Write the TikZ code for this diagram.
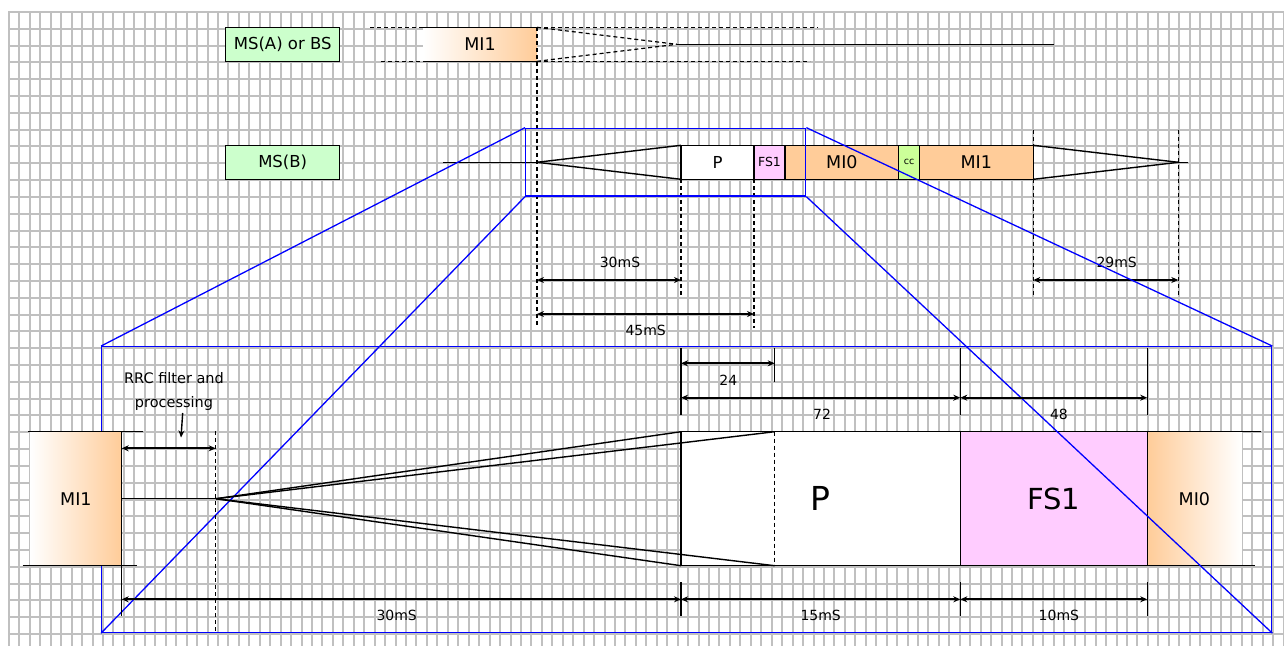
\documentclass[tikz,border=0pt]{standalone}
\usepackage{fontspec}
\setmainfont{DejaVu Sans}
\usepackage{tikz}
\usetikzlibrary{arrows, arrows.meta, positioning}
\definecolor{gridgray}{RGB}{192,192,192}
\definecolor{msgreen}{RGB}{204,255,204}
\definecolor{miorange}{RGB}{255,204,153}
\definecolor{fspink}{RGB}{255,204,255}
\definecolor{ccgreen}{RGB}{204,255,153}
\tikzstyle{slot} = [rectangle, draw=black, line width=1.3pt, inner sep=0pt, outer sep=0pt, minimum height=34pt, font=\fontsize{16.5}{19}\selectfont]
\tikzstyle{msnode} = [slot, fill=msgreen, minimum width=114pt]
\tikzstyle{bigslot} = [rectangle, inner sep=0pt, outer sep=0pt, minimum height=134pt]
\tikzstyle{guide} = [line width=1.2pt, dash pattern=on 4pt off 3pt]
\tikzstyle{edge} = [line width=1.4pt]
\tikzstyle{dimarrow} = [line width=1.8pt, {Stealth[length=7pt,width=6pt]}-{Stealth[length=7pt,width=6pt]}]
\tikzstyle{zoomline} = [blue, line width=1.3pt]
\tikzstyle{dimtext} = [inner sep=0pt, font=\fontsize{14}{16}\selectfont]

\begin{document}
\begin{tikzpicture}[x=1pt, y=-1pt]
    \useasboundingbox (0,0) rectangle (1284,646);
    \foreach \i in {0,...,122}
        \draw [gridgray, line width=2pt] (9+10.448*\i,11) -- (9+10.448*\i,646);
    \foreach \j in {0,...,37}
        \draw [gridgray, line width=2pt] (8,12+16.81*\j) -- (1284,12+16.81*\j);

    \node (msa) [msnode] at (282.7,44.3) {MS(A) or BS};
    \node (msb) [msnode] at (282.7,162.3) {MS(B)};

    \coordinate (atl) at (370,27.3);
    \coordinate (abl) at (381,61.3);
    \coordinate (aconv) at (676.7,44.3);
    \coordinate (atr) at (818,27.3);
    \coordinate (abr) at (810,61.3);
    \coordinate (aend) at (1054,44.3);
    \node (mia) [slot, draw=none, minimum width=114pt, left color=white, right color=miorange, font=\fontsize{17.5}{20}\selectfont] at (480,44.3) {MI1};
    \draw [edge] (mia.north west) -- (mia.north east);
    \draw [edge] (mia.south west) -- (mia.south east);
    \draw [guide] (atl) -- (mia.north west);
    \draw [guide] (abl) -- (mia.south west);
    \draw [guide] (mia.north east) -- (aconv);
    \draw [guide] (mia.south east) -- (aconv);
    \draw [guide] (mia.north east) -- (atr);
    \draw [guide] (mia.south east) -- (abr);
    \draw [edge] (aconv) -- (aend);

    \node (pa) [slot, fill=white, minimum width=73pt] at (717.5,162.3) {P};
    \node (fsa) [slot, fill=fspink, minimum width=31pt, right=0pt of pa, font=\fontsize{12.5}{14}\selectfont] {FS1};
    \node (mioa) [slot, fill=miorange, minimum width=113.7pt, right=0pt of fsa, font=\fontsize{17.5}{20}\selectfont] {MI0};
    \node (cca) [slot, fill=ccgreen, minimum width=20.6pt, right=0pt of mioa, font=\fontsize{9.5}{11}\selectfont] {cc};
    \node (mi1a) [slot, fill=miorange, minimum width=114pt, right=0pt of cca, font=\fontsize{17.5}{20}\selectfont] {MI1};
    \coordinate (bstart) at (443,162.3);
    \coordinate (bconv) at (537,162.3);
    \coordinate (cconv) at (1178.3,162.3);
    \coordinate (bend) at (1188.3,162.3);
    \draw [edge] (bstart) -- (bconv);
    \draw [edge] (bconv) -- (pa.north west);
    \draw [edge] (bconv) -- (pa.south west);
    \draw [edge] (mi1a.north east) -- (cconv);
    \draw [edge] (mi1a.south east) -- (cconv);
    \draw [edge] (cconv) -- (bend);

    \coordinate (g1b) at (537,328);
    \coordinate (g2b) at (681,297);
    \coordinate (g3b) at (754,328);
    \coordinate (g4t) at (1033.3,130);
    \coordinate (g4b) at (1033.3,297);
    \coordinate (g5t) at (1178.3,130);
    \coordinate (g5b) at (1178.3,297);
    \draw [guide] (mia.north east) -- (g1b);
    \draw [guide] (pa.south west) -- (g2b);
    \draw [guide] (fsa.south west) -- (g3b);
    \draw [guide] (g4t) -- (g4b);
    \draw [guide] (g5t) -- (g5b);

    \coordinate (d30l) at (537,280);
    \coordinate (d30r) at (681,280);
    \coordinate (d45l) at (537,314);
    \coordinate (d45r) at (754,314);
    \coordinate (d29l) at (1033.3,280);
    \coordinate (d29r) at (1178.3,280);
    \draw [dimarrow] (d30l) -- (d30r);
    \draw [dimarrow] (d45l) -- (d45r);
    \draw [dimarrow] (d29l) -- (d29r);
    \node (t30) [dimtext] at (620,262.7) {30mS};
    \node (t45) [dimtext] at (645.7,330) {45mS};
    \node (t29) [dimtext] at (1116.7,262.3) {29mS};

    \node (pb) [bigslot, draw=black, line width=1.3pt, fill=white, minimum width=279.3pt, font=\fontsize{33}{36}\selectfont] at (820.65,498.7) {P};
    \node (fsb) [bigslot, draw=black, line width=1.3pt, fill=fspink, minimum width=186.9pt, right=0pt of pb, font=\fontsize{29}{32}\selectfont] {FS1};
    \node (miob) [bigslot, minimum width=94.4pt, left color=miorange, right color=white, right=0pt of fsb, font=\fontsize{17.5}{20}\selectfont] {MI0};
    \draw [edge] (fsb.north east) -- (fsb.south east);
    \coordinate (btr) at (1261,431.7);
    \coordinate (bbr) at (1255,565.7);
    \draw [edge] (pb.north west) -- (btr);
    \draw [edge] (pb.south west) -- (bbr);

    \node (zsmall) [draw=blue, line width=1.3pt, minimum width=280pt, minimum height=67.7pt, inner sep=0pt] at (665.7,162.15) {};
    \node (zbig) [draw=blue, line width=1.3pt, minimum width=1170pt, minimum height=285.8pt, inner sep=0pt] at (686.7,489.6) {};
    \draw [zoomline] (zsmall.north west) -- (zbig.north west);
    \draw [zoomline] (zsmall.north east) -- (zbig.north east);
    \draw [zoomline] (zsmall.south west) -- (zbig.south west);
    \draw [zoomline] (zsmall.south east) -- (zbig.south east);

    \node (mi1b) [bigslot, minimum width=91.7pt, left color=white, right color=miorange, font=\fontsize{17.5}{20}\selectfont] at (75.85,498.7) {MI1};
    \coordinate (mtl) at (28.3,431.7);
    \coordinate (mtr) at (143.3,431.7);
    \coordinate (mbl) at (22.7,565.7);
    \coordinate (mbr) at (136.7,565.7);
    \coordinate (mext) at (121.7,616);
    \draw [edge] (mtl) -- (mtr);
    \draw [edge] (mbl) -- (mbr);
    \draw [edge] (mi1b.north east) -- (mext);

    \coordinate (rconv) at (216,498.7);
    \coordinate (pdt) at (774.7,431.7);
    \coordinate (pdb) at (774.7,565.7);
    \draw [edge] (mi1b.east) -- (rconv);
    \draw [edge] (rconv) -- (pb.north west);
    \draw [edge] (rconv) -- (pdt);
    \draw [edge] (rconv) -- (pb.south west);
    \draw [edge] (rconv) -- (pdb);
    \draw [guide] (pdt) -- (pdb);
    \coordinate (rgt) at (215.7,431);
    \coordinate (rgb) at (215.7,633);
    \draw [guide] (rgt) -- (rgb);

    \foreach \x in {681,960.3,1147.2} {
        \draw [edge] (\x,348) -- (\x,415);
        \draw [edge] (\x,582) -- (\x,616);
    }
    \draw [edge] (774.7,348) -- (774.7,381.7);

    \coordinate (r24l) at (681,363.3);
    \coordinate (r24r) at (774.7,363.3);
    \coordinate (r72l) at (681,397.7);
    \coordinate (r72r) at (960.3,397.7);
    \coordinate (r48r) at (1147.2,397.7);
    \coordinate (s30l) at (121.7,599.3);
    \coordinate (s30r) at (681,599.3);
    \coordinate (s15r) at (960.3,599.3);
    \coordinate (s10r) at (1147.2,599.3);
    \coordinate (rrcl) at (121.7,448.3);
    \coordinate (rrcr) at (215.7,448.3);
    \draw [dimarrow] (r24l) -- (r24r);
    \draw [dimarrow] (r72l) -- (r72r);
    \draw [dimarrow] (r72r) -- (r48r);
    \draw [dimarrow] (s30l) -- (s30r);
    \draw [dimarrow] (s30r) -- (s15r);
    \draw [dimarrow] (s15r) -- (s10r);
    \draw [dimarrow] (rrcl) -- (rrcr);
    \node (t24) [dimtext] at (728.3,380) {24};
    \node (t72) [dimtext] at (822,414.3) {72};
    \node (t48) [dimtext] at (1058.9,414.3) {48};
    \node (tb30) [dimtext] at (396.7,615) {30mS};
    \node (tb15) [dimtext] at (820.7,615) {15mS};
    \node (tb10) [dimtext] at (1058.9,615) {10mS};

    \node (rrc) [dimtext, align=center, font=\fontsize{14.5}{24}\selectfont] at (174,391) {RRC filter and\\processing};
    \coordinate (rrcfrom) at (182.7,413);
    \coordinate (rrctip) at (181,437.5);
    \draw [line width=1.4pt, -{Stealth[length=7pt,width=6pt]}] (rrcfrom) -- (rrctip);
\end{tikzpicture}
\end{document}
